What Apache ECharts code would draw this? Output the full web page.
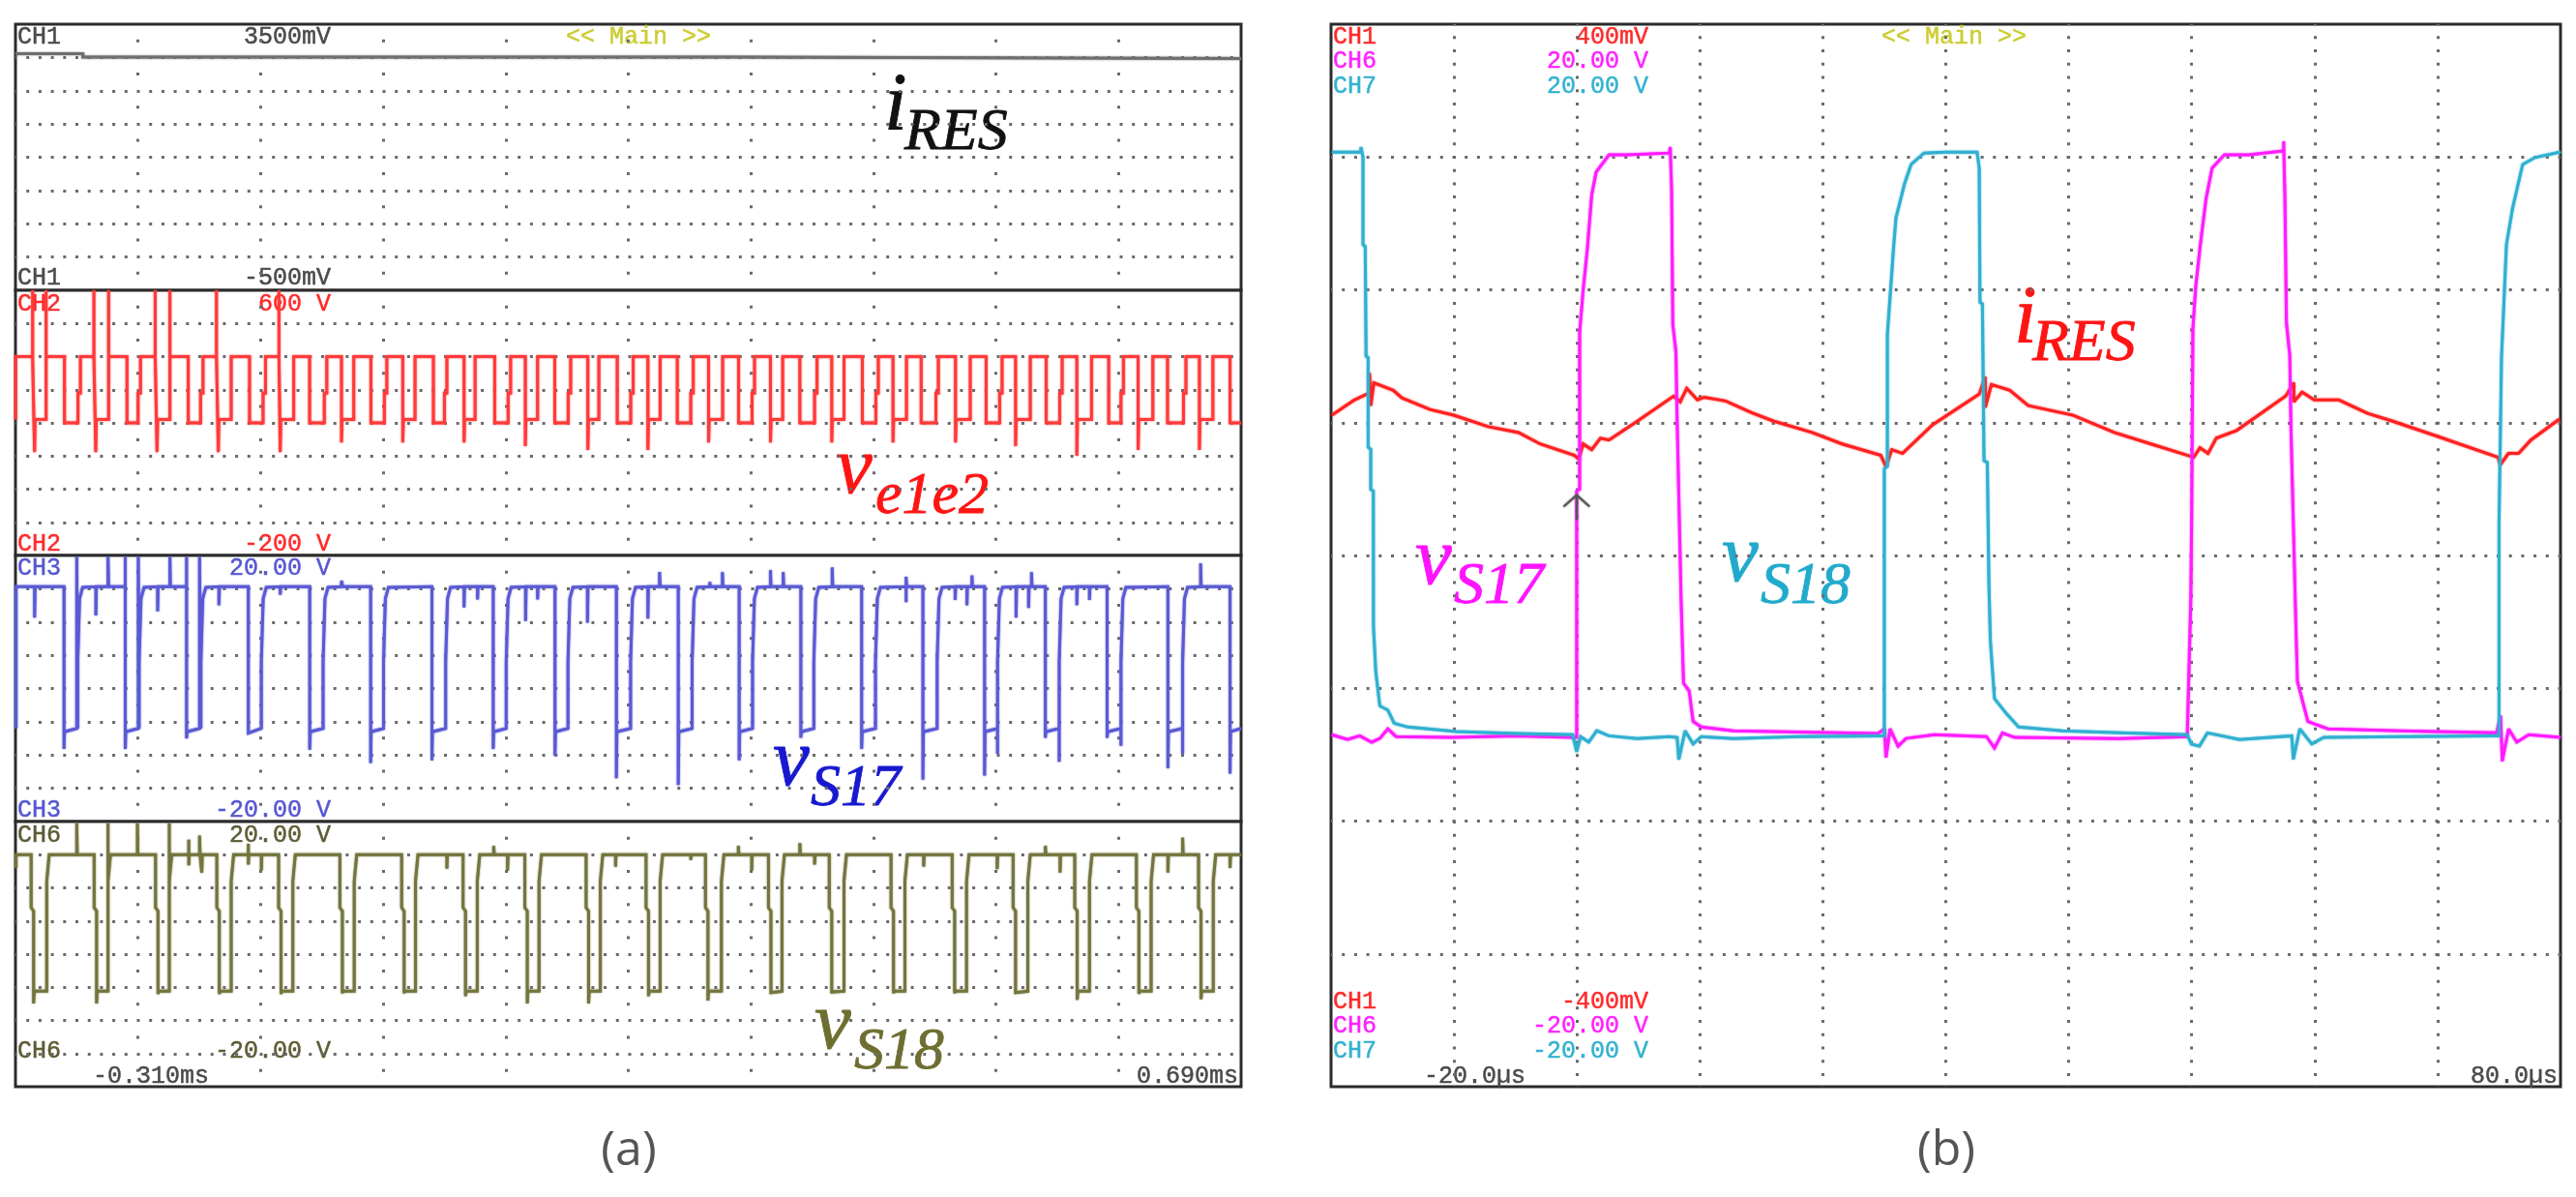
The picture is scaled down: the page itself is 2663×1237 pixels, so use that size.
<!DOCTYPE html>
<html>
<head>
<meta charset="utf-8">
<title>scope</title>
<style>html,body{margin:0;height:100%;background:#fff}#main{width:2663px;height:1237px}</style>
<script src="https://cdn.jsdelivr.net/npm/echarts@6/dist/echarts.min.js"></script>
</head>
<body>
<div id="main"></div>
<script>
// ---------------panel (a) traces, [us, value]-------------
// time on the screen runs -310us .. 690us
var aStart = -310;

var iResA = [[-310,3056],[-255,3056],[-255,3006],[279,3006],[279,2984],[690,2984]];

var vEle2 = [
  [-310,210],[-310,400],[-296,400],[-296,600],[-296,400],[-295,400],[-295,210],[-294.4,112],[-294,210],[-285,210],[-285,600],[-285,400],
  [-270,400],[-270,200],[-259,200],[-259,290],[-257,290],[-257,400],[-246,400],[-246,600],[-246,400],
  [-244.5,400],[-244.5,112],[-244,210],[-234,210],[-234,600],[-234,400],[-219,400],[-219,200],[-210,200],[-210,290],[-208,290],[-208,400],[-196,400],[-196,600],[-196,400],
  [-194.5,400],[-194.5,112],[-194,210],[-184,210],[-184,600],[-184,400],[-169,400],[-169,200],[-159,200],[-159,290],[-157,290],[-157,400],[-146,400],[-146,600],[-146,400],
  [-144.5,400],[-144.5,112],[-144,210],[-134,210],[-134,400],[-119,400],[-119,200],[-108,200],[-108,290],[-106,290],[-106,400],[-95,400],[-95,600],[-95,400],
  [-94,400],[-94,112],[-93.5,210],[-83,210],[-83,400],[-70,400],[-70,200],[-58,200],[-58,290],[-56,290],[-56,400],
  [-44,400],[-44,141],[-43.5,210],[-34,210],[-34,400],[-20,400],[-20,200],[-9,200],[-9,290],[-7,290],[-7,400],
  [6,400],[6,141],[6.5,210],[16,210],[16,400],[31,400],[31,200],[40,200],[40,290],[42,290],[42,400],
  [56,400],[56,141],[56.5,210],[65,210],[65,400],[81,400],[81,200],[92,200],[92,290],[94,290],[94,400],
  [106,400],[106,130],[106.5,210],[116,210],[116,400],[130,400],[130,200],[141,200],[141,290],[143,290],[143,400],
  [157,400],[157,118],[157.5,210],[166,210],[166,400],[181,400],[181,200],[192,200],[192,290],[194,290],[194,400],
  [206,400],[206,118],[206.5,210],[216,210],[216,400],[230,400],[230,200],[241,200],[241,290],[243,290],[243,400],
  [255.5,400],[255.5,141],[256,210],[267,210],[267,400],[280,400],[280,200],[291,200],[291,290],[293,290],[293,400],
  [306,400],[306,141],[306.5,210],[316,210],[316,400],[330,400],[330,200],[342,200],[342,290],[344,290],[344,400],
  [356,400],[356,141],[356.5,210],[366,210],[366,400],[381,400],[381,200],[392,200],[392,290],[394,290],[394,400],
  [406,400],[406,141],[406.5,210],[417,210],[417,400],[429,400],[429,200],[441,200],[441,290],[443,290],[443,400],
  [457,400],[457,141],[457.5,210],[469,210],[469,400],[482,400],[482,200],[493,200],[493,290],[495,290],[495,400],
  [506,400],[506,130],[506.5,210],[518,210],[518,400],[531,400],[531,200],[542,200],[542,290],[544,290],[544,400],
  [556,400],[556,101],[556.5,210],[568,210],[568,400],[582,400],[582,200],[592,200],[592,290],[594,290],[594,400],
  [606,400],[606,118],[606.5,210],[618,210],[618,400],[630,400],[630,200],[643,200],[643,290],[645,290],[645,400],
  [656,400],[656,118],[656.5,210],[667,210],[667,400],[681,400],[681,200],[690,200]
];

var vS17A = [
  [-309.5,-6],[-309.5,15.3],[-294.4,15.3],[-294.4,10.65],[-294,15.3],
  [-270.4,15.3],[-270.4,-9.1],[-270,-6.5],[-260,-6],[-260,19.8],[-259.2,-6],[-259.2,4],[-257.7,13.5],[-255.2,15.2],[-244.4,15.3],[-244.4,11],[-244,15.3],[-234.5,15.3],[-234.5,19.8],[-234,15.3],
  [-220.4,15.3],[-220.4,19.8],[-220.4,-9.1],[-220,-6.5],[-209.8,-6],[-209.8,19.8],[-209.1,-6],[-209.1,4],[-207.6,13.5],[-205.1,15.2],[-194,15.3],[-194,11.6],[-193.6,15.3],[-184,15.3],[-184,19.8],[-183.6,15.3],
  [-170.4,15.3],[-170.4,19.8],[-170.4,-7.5],[-170,-6.5],[-159.8,-6],[-159.8,19.8],[-158.7,-6],[-158.7,4],[-157.2,13.5],[-154.7,15.2],[-144,15.3],[-144,12.5],[-143.6,15.3],
  [-120,15.3],[-120,-6.7],[-119.6,-6.5],[-109.4,-6],[-109.4,4],[-107.9,13.5],[-105.4,15.2],[-94,15.3],[-94,14.1],[-93.6,15.3],
  [-69.9,15.3],[-69.9,-9.2],[-69.5,-6.5],[-59,-6],[-59,4],[-57.5,13.5],[-55,15.2],[-44,15.3],[-44,16.2],[-43,15.3],
  [-20.2,15.3],[-20.2,-11.2],[-19.8,-6.5],[-9.7,-6],[-9.7,4],[-8.2,13.5],[-5.7,15.2],
  [29.8,15.3],[29.8,-10.8],[30.2,-6.5],[41,-6],[41,4],[42.5,13.5],[45,15.2],[56,15.3],[56,12.2],[56.4,15.3],[67,15.3],[67,13.4],[67.4,15.3],
  [79.8,15.3],[79.8,-9.1],[80.2,-6.5],[90.4,-6],[90.4,4],[91.9,13.5],[94.4,15.2],[106.2,15.3],[106.2,10.15],[106.6,15.3],[116,15.3],[116,13.4],[116.4,15.3],
  [130.2,15.3],[130.2,-10.1],[130.6,-6.5],[140.8,-6],[140.8,4],[142.3,13.5],[144.8,15.2],[156.7,15.3],[156.7,9.9],[157.1,15.3],
  [180.3,15.3],[180.3,-13.5],[180.7,-6.5],[191.9,-6],[191.9,4],[193.4,13.5],[195.9,15.2],[206,15.3],[206,10.5],[206.4,15.3],[215.5,15.3],[215.5,17.5],[216,15.3],
  [230.8,15.3],[230.8,-14.5],[231.2,-6.5],[242.1,-6],[242.1,4],[243.6,13.5],[246.1,15.2],[256.5,15.3],[256.5,16],[257,15.3],[266.8,15.3],[266.8,17.5],[267.2,15.3],
  [280.5,15.3],[280.5,-10.8],[280.9,-6.5],[291.4,-6],[291.4,4],[292.9,13.5],[295.4,15.2],[306,15.3],[306,17.8],[306.4,15.3],[316.4,15.3],[316.4,17.5],[316.8,15.3],
  [330.8,15.3],[330.8,-7.4],[331.2,-6.5],[341.4,-6],[341.4,4],[342.9,13.5],[345.4,15.2],[356.4,15.3],[356.4,18.2],[356.8,15.3],
  [380.4,15.3],[380.4,-9.1],[380.8,-6.5],[391.7,-6],[391.7,4],[393.2,13.5],[395.7,15.2],[416.7,15.3],[416.7,13],[416.7,16.8],[417.1,15.3],
  [430.4,15.3],[430.4,-13.7],[430.8,-6.5],[442,-6],[442,4],[443.5,13.5],[446,15.2],[456.7,15.3],[456.7,13.3],[457.1,15.3],[466.3,15.3],[466.3,12.5],[466.7,15.3],[470.4,15.3],[470.4,17],[470.8,15.3],
  [480.7,15.3],[480.7,-13.1],[481.1,-6.5],[491.3,-6],[491.3,-9.8],[491.3,4],[492.8,13.5],[495.3,15.2],[506.4,15.3],[506.4,10.65],[506.8,15.3],[516.6,15.3],[516.6,12.1],[517,15.3],[519,15.3],[519,17.5],[519.4,15.3],
  [530.3,15.3],[530.3,-7.4],[530.7,-6.5],[541.6,-6],[541.6,-11],[541.6,4],[543.1,13.5],[545.6,15.2],[556,15.3],[556,12.5],[556.4,15.3],[566.3,15.3],[566.3,13.3],[566.7,15.3],
  [580.7,15.3],[580.7,-7.4],[581.1,-6.5],[592,-6],[592,-8.6],[592,4],[593.5,13.5],[596,15.2],
  [630.3,15.3],[630.3,-12],[630.7,-6.5],[642.3,-6],[642.3,-9.8],[642.3,4],[643.8,13.5],[646.3,15.2],[657,15.3],[657,18.8],[657.4,15.3],
  [681,15.3],[681,-12.8],[681.4,-6.5],[690,-6]
];

var vS18A = [
  [-309.5,13],[-309.5,15],[-297.2,15],[-297.2,7],[-295.2,6.5],[-295.2,-7.45],[-294.7,-5.6],[-284.5,-5.6],[-284.5,11],[-282.5,15],[-260,15],[-260,19.75],[-259.6,15],
  [-245.8,15],[-245.8,7],[-243.8,6.5],[-243.8,-7.45],[-243.3,-5.6],[-234.5,-5.6],[-234.5,19.75],[-234.5,11],[-232.5,15],[-210.5,15],[-210.5,19.75],[-210.1,15],
  [-195.7,15],[-195.7,7],[-193.7,6.5],[-193.7,-6.03],[-193.2,-5.6],[-184.5,-5.6],[-184.5,19.75],[-184.5,11],[-182.5,15],[-168.6,15],[-168.6,17.26],[-168.6,13.4],[-168.2,15],[-159.8,15],[-159.8,17.88],[-159.4,15],[-158,15],[-158,12.3],[-157.6,15],
  [-145.7,15],[-145.7,7],[-143.7,6.5],[-143.7,-6.03],[-143.2,-5.6],[-134,-5.6],[-134,11],[-132,15],[-120,15],[-120,16.64],[-120,13.5],[-119.6,15],[-109.4,15],[-109.4,12.6],[-109,15],
  [-95.3,15],[-95.3,7],[-93.3,6.5],[-93.3,-6.03],[-92.8,-5.6],[-83.7,-5.6],[-83.7,11],[-81.7,15],
  [-45.3,15],[-45.3,7],[-43.3,6.5],[-43.3,-5.9],[-42.8,-5.6],[-33.6,-5.6],[-33.6,11],[-31.6,15],
  [5.1,15],[5.1,7],[7.1,6.5],[7.1,-5.9],[7.6,-5.6],[16.4,-5.6],[16.4,11],[18.4,15],[42,15],[42,12.9],[42.4,15],
  [55.2,15],[55.2,7],[57.2,6.5],[57.2,-6.34],[57.7,-5.6],[66.8,-5.6],[66.8,11],[68.8,15],[80.2,15],[80.2,16.33],[80.6,15],[91.5,15],[91.5,12.6],[91.9,15],
  [105.6,15],[105.6,7],[107.6,6.5],[107.6,-7.45],[108.1,-5.6],[117.2,-5.6],[117.2,11],[119.2,15],
  [155.6,15],[155.6,7],[157.6,6.5],[157.6,-7.45],[158.1,-5.6],[167.2,-5.6],[167.2,11],[169.2,15],[179.6,15],[179.6,13.2],[180,15],
  [204.5,15],[204.5,7],[206.5,6.5],[206.5,-6.34],[207,-5.6],[216,-5.6],[216,11],[218,15],[241,15],[241,14.2],[241.4,15],
  [253,15],[253,7],[255,6.5],[255,-7],[255.5,-5.6],[266,-5.6],[266,11],[268,15],[279.8,15],[279.8,16.33],[280.2,15],[290.7,15],[290.7,12.6],[291.1,15],
  [304.4,15],[304.4,7],[306.4,6.5],[306.4,-5.8],[306.9,-5.6],[315.4,-5.6],[315.4,11],[317.4,15],[330,15],[330,16.76],[330.4,15],[342,15],[342,13.5],[342.4,15],
  [354,15],[354,7],[356,6.5],[356,-5.7],[356.5,-5.6],[366,-5.6],[366,11],[368,15],
  [404.4,15],[404.4,7],[406.4,6.5],[406.4,-5.9],[406.9,-5.6],[415.7,-5.6],[415.7,11],[417.7,15],[431,15],[431,13.2],[431.4,15],
  [454.3,15],[454.3,7],[456.3,6.5],[456.3,-5.9],[456.8,-5.6],[466,-5.6],[466,11],[468,15],[491,15],[491,12.8],[491.4,15],
  [504,15],[504,7],[506,6.5],[506,-5.8],[506.5,-5.6],[516,-5.6],[516,11],[518,15],[530.3,15],[530.3,16.33],[530.7,15],[542.3,15],[542.3,12.3],[542.7,15],
  [554.3,15],[554.3,7],[556.3,6.5],[556.3,-6.9],[556.8,-5.6],[566.3,-5.6],[566.3,11],[568.3,15],
  [604.6,15],[604.6,7],[606.6,6.5],[606.6,-6],[607.1,-5.6],[616.6,-5.6],[616.6,11],[618.6,15],[630.3,15],[630.3,12.3],[630.7,15],[642.3,15],[642.3,17.57],[642.7,15],
  [655.3,15],[655.3,7],[657.3,6.5],[657.3,-6.8],[657.8,-5.6],[667.3,-5.6],[667.3,11],[669.3,15],[681,15],[681,13],[681.4,15],[690,15]
];

// ---------------panel (b) traces, [us, value]-------------
var iResB = [
  [-19.93,105.6],[-18.1,117.1],[-17.12,121.4],[-16.87,121.4],[-16.87,137.3],[-16.77,112.8],[-16.52,130],[-14.94,124.3],[-14.24,118.6],[-11.96,109.9],[-10.03,105.6],
  [-7.22,97],[-4.76,92.6],[-3,84],[-0.2,75.4],[0.15,72.5],[0.5,84],[1.2,79.7],[1.91,88.3],[2.61,86.9],[4.71,99.8],[7.87,120],[8.4,115.7],[8.93,125.8],[9.8,117.1],[10.33,119.1],
  [12.09,116.3],[14.19,107.6],[15.95,101.3],[19.11,92.6],[21.56,84],[24.72,75.4],[25.14,66.7],[25.6,79.7],[26.48,76.8],[28.93,98.4],[32.72,121.4],[33.21,134.4],[33.21,111.4],[33.71,128.7],
  [35.21,124.3],[36.71,112.8],[40.36,105.6],[43.69,92.6],[46.68,84],[50.17,73.9],[50.67,81.1],[51.33,76.8],[52,88.3],[53.66,94.1],[57.65,120],[58.31,130],[58.31,115.7],[58.98,122.9],
  [59.97,117.1],[61.97,117.1],[64.3,107],[66.29,101.3],[69.95,89.8],[74.93,73.9],[75.1,68.2],[75.76,76.8],[76.59,76.8],[77.59,86.9],[79.92,102.7]
];

var vS17B = [
  [-19.95,-6.75],[-18.65,-6.93],[-17.67,-6.79],[-16.69,-7.03],[-16.03,-6.89],[-15.38,-6.53],[-14.72,-6.82],[-10.15,-6.85],[-4.92,-6.79],[-0.35,-6.85],[-0.02,-6.85],
  [-0.02,2.42],[0.22,2.49],[0.22,8.39],[0.5,9.97],[0.85,11.56],[1.2,13.57],[1.56,14.43],[2.61,15.08],[4.01,15.08],[7.52,15.15],[7.59,15.37],[7.7,13.72],[7.8,8.68],[8.05,7.67],[8.15,5.08],
  [8.47,-1.66],[8.67,-4.81],[9.13,-5.1],[9.45,-6.25],[10.11,-6.46],[12.72,-6.6],[17.95,-6.65],[24.49,-6.7],[25.01,-6.53],[25.14,-7.61],[25.47,-6.53],[26.12,-7.18],[26.77,-6.89],[29.06,-6.75],
  [33.31,-6.82],[33.96,-7.25],[34.61,-6.68],[35.59,-6.85],[44.09,-6.89],[49.64,-6.82],[49.93,-1.65],[50,1.48],[50.1,8.53],[50.33,10.12],[50.67,11.56],[51.17,13.43],[51.66,14.58],[52.66,15.08],
  [54.65,15.08],[57.48,15.23],[57.48,15.59],[57.58,13.57],[57.71,8.75],[57.98,7.53],[58.08,4.72],[58.47,-2.52],[58.6,-4.74],[59.45,-6.25],[61.08,-6.53],[66.96,-6.6],[74.8,-6.68],[75.13,-6.03],
  [75.26,-7.75],[75.78,-6.53],[76.44,-7.03],[77.42,-6.75],[80,-6.85]
];

var vS18B = [
  [-19.93,15.18],[-17.57,15.18],[-17.57,15.37],[-17.4,15],[-17.4,11.7],[-17.22,11.63],[-17.15,7.5],[-16.98,7.45],[-16.98,4.07],[-16.77,4],[-16.77,2.49],[-16.56,2.42],[-16.55,-2.66],[-16.36,-4.38],
  [-16.03,-5.67],[-15.38,-5.82],[-14.86,-6.32],[-13.75,-6.46],[-9.82,-6.63],[-4.92,-6.7],[-0.35,-6.75],[-0.02,-7.39],[0.3,-6.82],[0.96,-7.03],[1.61,-6.6],[2.59,-6.79],[4.88,-6.89],[7.49,-6.82],
  [8.15,-6.85],[8.28,-7.68],[8.8,-6.6],[9.45,-7.1],[10.11,-6.82],[12.72,-6.89],[17.95,-6.82],[24.49,-6.79],[25,-6.79],[25,3.27],[25.25,3.35],[25.25,8.32],[25.77,11.7],[25.95,12.71],[26.65,14],
  [27.18,14.72],[28.23,15.15],[29.99,15.18],[32.55,15.18],[32.72,14.58],[32.78,9.54],[32.98,9.47],[33.11,3.57],[33.38,3.5],[33.51,-1.11],[33.63,-3.24],[33.96,-5.39],[34.94,-5.96],[35.92,-6.46],
  [39.5,-6.6],[44.09,-6.68],[49.64,-6.75],[49.97,-7.1],[50.63,-7.18],[51.28,-6.68],[53.89,-6.93],[58.14,-6.79],[58.27,-7.68],[58.79,-6.53],[59.77,-7.1],[60.75,-6.85],[66.96,-6.82],[74.48,-6.79],
  [75,-6.79],[75,1.27],[75.2,7.45],[75.6,11.7],[76.1,13.07],[76.92,14.72],[77.92,14.98],[79.92,15.18],[80,15.2]
];

// 触发箭头
var trigMark = [[-1.08,1.84],[-0.02,2.27],[1.03,1.84],[-0.02,2.27],[-0.02,1.34]];

// ---------------screen read-outs-------------
var MONO = '"Liberation Mono", monospace';
var C_DARK = '#4a4a4a', C_RED = '#ff2a2a', C_BLUE = '#5656d2', C_OLIVE = '#5c5c35',
    C_MAG = '#ff22ff', C_CYAN = '#33b2d0', C_YEL = '#cccc33';

var readouts = [
  ['CH1', 18, 38, C_DARK, 'left'], ['3500mV', 342, 38, C_DARK, 'right'], ['<< Main >>', 585, 38, C_YEL, 'left'],
  ['CH1', 18, 287, C_DARK, 'left'], ['-500mV', 342, 287, C_DARK, 'right'],
  ['CH2', 18, 314, C_RED, 'left'], ['600 V', 342, 314, C_RED, 'right'],
  ['CH2', 18, 562, C_RED, 'left'], ['-200 V', 342, 562, C_RED, 'right'],
  ['CH3', 18, 587, C_BLUE, 'left'], ['20.00 V', 342, 587, C_BLUE, 'right'],
  ['CH3', 18, 837, C_BLUE, 'left'], ['-20.00 V', 342, 837, C_BLUE, 'right'],
  ['CH6', 18, 863, C_OLIVE, 'left'], ['20.00 V', 342, 863, C_OLIVE, 'right'],
  ['CH6', 18, 1086, C_OLIVE, 'left'], ['-20.00 V', 342, 1086, C_OLIVE, 'right'],
  ['-0.310ms', 96, 1112, C_DARK, 'left'], ['0.690ms', 1280, 1112, C_DARK, 'right'],

  ['CH1', 1378, 38, C_RED, 'left'], ['400mV', 1704, 38, C_RED, 'right'], ['<< Main >>', 1945, 38, C_YEL, 'left'],
  ['CH6', 1378, 63, C_MAG, 'left'], ['20.00 V', 1704, 63, C_MAG, 'right'],
  ['CH7', 1378, 89, C_CYAN, 'left'], ['20.00 V', 1704, 89, C_CYAN, 'right'],
  ['CH1', 1378, 1035, C_RED, 'left'], ['-400mV', 1704, 1035, C_RED, 'right'],
  ['CH6', 1378, 1060, C_MAG, 'left'], ['-20.00 V', 1704, 1060, C_MAG, 'right'],
  ['CH7', 1378, 1086, C_CYAN, 'left'], ['-20.00 V', 1704, 1086, C_CYAN, 'right'],
  ['-20.0\u00b5s', 1472, 1112, C_DARK, 'left'], ['80.0\u00b5s', 2644, 1112, C_DARK, 'right']
];

// 斜体标注: text, x, y, size, color
var notes = [
  ['i', 914, 112, 85, '#111111'], ['RES', 935, 138, 62, '#111111'],
  ['v', 864, 487, 85, '#ff1414'], ['e1e2', 905, 514, 62, '#ff1414'],
  ['v', 799, 789, 85, '#1818d0'], ['S17', 838, 816, 62, '#1818d0'],
  ['v', 842, 1061, 85, '#6e6e30'], ['S18', 883, 1088, 62, '#6e6e30'],
  ['i', 2082, 332, 85, '#ff1414'], ['RES', 2101, 356, 62, '#ff1414'],
  ['v', 1463, 581, 85, '#ff14ff'], ['S17', 1503, 607, 62, '#ff14ff'],
  ['v', 1780, 578, 85, '#22aacc'], ['S18', 1820, 607, 62, '#22aacc']
];

var captions = [['(a)', 650, 1190], ['(b)', 2012, 1190]];

// ---------------layout-------------
var aGrids = [
  {top: 25, height: 275, min: -500, max: 3500, interval: 500},
  {top: 300, height: 274, min: -200, max: 600, interval: 100},
  {top: 574, height: 275, min: -20, max: 20, interval: 5},
  {top: 849, height: 274, min: -20, max: 20, interval: 5}
];

var DOT = '#6a6a6a';

function xAxisOf(gridIndex, min, max, interval, dash, offset) {
    return {
        type: 'value', gridIndex: gridIndex, min: min, max: max, interval: interval,
        axisLine: {show: false}, axisTick: {show: false}, axisLabel: {show: false},
        splitLine: {
            show: true, showMinLine: false, showMaxLine: false,
            lineStyle: {color: DOT, width: 3, type: dash, dashOffset: offset}
        }
    };
}

function yAxisOf(gridIndex, min, max, interval, showDots) {
    return {
        type: 'value', gridIndex: gridIndex, min: min, max: max, interval: interval,
        axisLine: {show: false}, axisTick: {show: false}, axisLabel: {show: false},
        splitLine: {
            show: showDots, showMinLine: false, showMaxLine: false,
            lineStyle: {color: DOT, width: 3, type: [3, 9.7], dashOffset: 1.5}
        }
    };
}

function trace(name, data, xIndex, yIndex, color, width) {
    return {
        name: name, type: 'line', xAxisIndex: xIndex, yAxisIndex: yIndex, data: data,
        symbol: 'none', silent: true, animation: false,
        lineStyle: {color: color, width: width, join: 'miter', miterLimit: 2,
            shadowBlur: 2, shadowColor: color}
    };
}

function shifted(points) {
    return points.map(function (p) { return [p[0] - aStart, p[1]]; });
}

var grids = [], xAxes = [], yAxes = [];
aGrids.forEach(function (g, i) {
    grids.push({left: 16, top: g.top, width: 1267, height: g.height, show: true,
        borderColor: '#2b2b2b', borderWidth: 3, backgroundColor: '#fff'});
    xAxes.push(xAxisOf(i, 0, 1000, 100, [3, 31.3], -15.7));
    yAxes.push(yAxisOf(i, g.min, g.max, g.interval, true));
});
grids.push({left: 1376, top: 25, width: 1271, height: 1098, show: true,
    borderColor: '#2b2b2b', borderWidth: 3, backgroundColor: '#fff'});
xAxes.push(xAxisOf(4, -20, 80, 10, [3, 10.74], 1.5));
yAxes.push(yAxisOf(4, -400, 400, 100, true));
yAxes.push(yAxisOf(4, -20, 20, 5, false));

var texts = [];
readouts.forEach(function (r) {
    texts.push({type: 'text', x: r[1], y: r[2], silent: true, style: {
        text: r[0], fill: r[3], font: '25px ' + MONO, stroke: r[3], lineWidth: 0.5,
        align: r[4], textAlign: r[4], verticalAlign: 'middle', textVerticalAlign: 'middle'
    }});
});
notes.forEach(function (n) {
    texts.push({type: 'text', x: n[1], y: n[2], silent: true, style: {
        text: n[0], fill: n[4], stroke: n[4], lineWidth: 0.8,
        font: 'italic ' + n[3] + 'px "Liberation Serif", serif',
        align: 'left', textAlign: 'left', verticalAlign: 'middle', textVerticalAlign: 'middle'
    }});
});
captions.forEach(function (c) {
    texts.push({type: 'text', x: c[1], y: c[2], silent: true, style: {
        text: c[0], fill: '#555555', font: '50px "Open Sans", sans-serif',
        align: 'center', textAlign: 'center', verticalAlign: 'middle', textVerticalAlign: 'middle'
    }});
});

var chart = echarts.init(document.getElementById('main'), null, {renderer: 'canvas'});
chart.setOption({
    backgroundColor: '#ffffff',
    animation: false,
    grid: grids,
    xAxis: xAxes,
    yAxis: yAxes,
    series: [
        trace('CH1', shifted(iResA), 0, 0, '#6e6e6e', 3),
        trace('CH2', shifted(vEle2), 1, 1, '#ff3a3a', 3),
        trace('CH3', shifted(vS17A), 2, 2, '#5a5ad4', 3),
        trace('CH6', shifted(vS18A), 3, 3, '#74743e', 3),
        trace('CH1 b', iResB, 4, 4, '#ff2020', 3),
        trace('CH6 b', vS17B, 4, 5, '#ff1cff', 3),
        trace('CH7 b', vS18B, 4, 5, '#30b0d0', 3),
        trace('trigger', trigMark, 4, 5, '#555555', 2)
    ],
    graphic: {elements: texts}
});

window.addEventListener('resize', function () {
    chart.resize();
});
</script>
</body>
</html>
